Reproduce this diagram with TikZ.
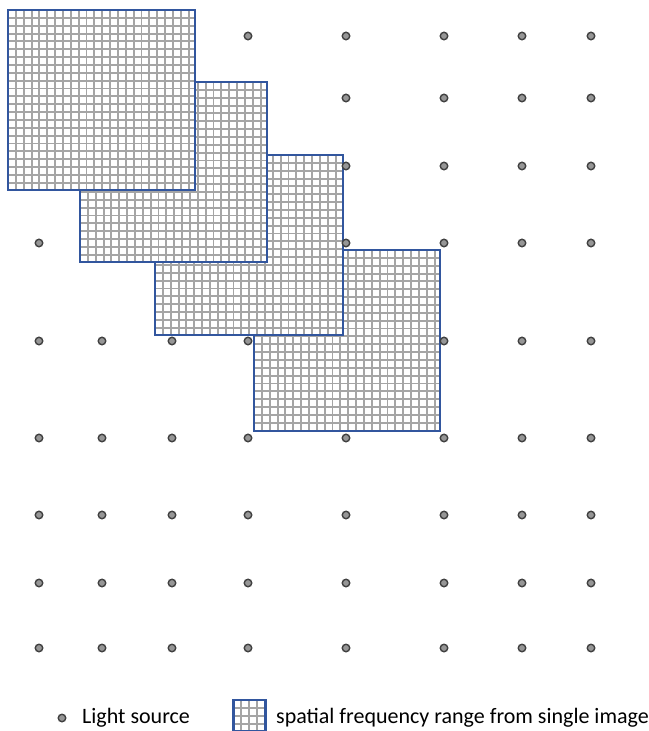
\documentclass[tikz,border=0pt]{standalone}
\usepackage{fontspec}
\setmainfont{Carlito}
\definecolor{boxblue}{RGB}{50,86,158}
\definecolor{gridgray}{RGB}{165,165,165}
\definecolor{dotfill}{RGB}{150,150,150}
\definecolor{dotring}{RGB}{64,64,64}
\tikzset{
  lightsrc/.style={circle, draw=dotring, fill=dotfill, line width=1.4pt,
    minimum size=7.5pt, inner sep=0pt},
  gridline/.style={draw=gridgray, line width=1.9pt},
  freqbox/.style={draw=boxblue, line width=2.4pt, fill=white, inner sep=0pt,
    outer sep=0pt,
    path picture={
      \foreach \k in {1,...,24} {
        \draw[gridline] ([xshift=\k*7.85pt]path picture bounding box.north west)
          -- ([xshift=\k*7.85pt]path picture bounding box.south west);
        \draw[gridline] ([yshift=-\k*7.85pt]path picture bounding box.north west)
          -- ([yshift=-\k*7.85pt]path picture bounding box.north east);
      }
    }},
  legtext/.style={anchor=west, inner sep=0pt, font=\fontsize{22}{26}\selectfont}
}
\begin{document}
\begin{tikzpicture}[x=1pt,y=1pt]
\useasboundingbox (0,0) rectangle (648,-731);
% frequency boxes (bottom one first)
\node[freqbox, minimum width=186pt, minimum height=181pt] (s4) at (347,-340.5) {};
\node[freqbox, minimum width=188pt, minimum height=180pt] (s3) at (249,-245) {};
\node[freqbox, minimum width=187pt, minimum height=180pt] (s2) at (173.5,-172) {};
\node[freqbox, minimum width=187pt, minimum height=180pt] (s1) at (101.5,-100) {};
% light sources
\def\colx{{39,102,172,248,346,444,522,591}}
\def\rowy{{36,98,166,243,341,438,515,583,648}}
\foreach \r/\cols in {1/{4,5,6,7,8}, 2/{5,6,7,8}, 3/{5,6,7,8}, 4/{1,5,6,7,8},
    5/{1,2,3,4,6,7,8}, 6/{1,2,3,4,5,6,7,8}, 7/{1,2,3,4,5,6,7,8},
    8/{1,2,3,4,5,6,7,8}, 9/{1,2,3,4,5,6,7,8}} {
  \foreach \c in \cols {
    \pgfmathsetmacro\xx{\colx[\c-1]}
    \pgfmathsetmacro\yy{\rowy[\r-1]}
    \node[lightsrc] (d\r-\c) at (\xx,-\yy) {};
  }
}
% legend
\node[lightsrc] (legdot) at (62,-718) {};
\node[legtext] (legtxt1) at (82,-718) {Light source};
\node[freqbox, minimum width=32pt, minimum height=31pt] (legbox) at (249.5,-715.5) {};
\node[legtext] (legtxt2) at (276,-718) {spatial frequency range from single image};
\end{tikzpicture}
\end{document}
